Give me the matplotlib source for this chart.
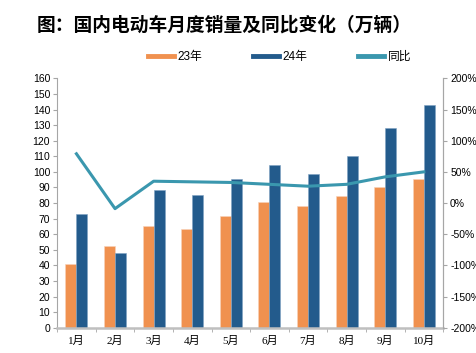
import matplotlib
matplotlib.use("Agg")
import matplotlib.pyplot as plt
import numpy as np
from matplotlib.lines import Line2D

plt.rcParams['font.family'] = ['Liberation Sans', 'Noto Sans CJK SC', 'DejaVu Sans']
plt.rcParams['axes.unicode_minus'] = True

months = ["1月", "2月", "3月", "4月", "5月", "6月", "7月", "8月", "9月", "10月"]
sales_23 = [40.7, 52.4, 65.2, 63.3, 71.6, 80.4, 77.9, 84.5, 90.3, 95.4]
sales_24 = [72.7, 47.7, 88.1, 84.9, 95.2, 104.6, 98.8, 109.9, 128.3, 142.8]
yoy = [79, -9, 35, 34, 33, 30, 27, 30, 42, 50]

c23 = '#F0914F'
c24 = '#235B8C'
cline = '#3A97AE'
gray = '#A6A6A6'

fig = plt.figure(figsize=(4.76, 3.53), dpi=100)
ax1 = fig.add_axes([0.120, 0.0717, 0.811, 0.7063])
x = np.arange(len(months))
w = 0.285
ax1.bar(x - w / 2, sales_23, width=w, color=c23, edgecolor='#F7D3BA', linewidth=0.4, zorder=2)
ax1.bar(x + w / 2, sales_24, width=w, color=c24, edgecolor='#7FA2C2', linewidth=0.4, zorder=2)
ax1.set_xlim(-0.5, len(months) - 0.5)
ax1.set_ylim(0, 160)
ax1.set_yticks(range(0, 161, 10))
ax1.tick_params(axis='y', labelsize=7.5, length=3, color=gray, pad=2)
ax1.set_xticks(x)
ax1.set_xticklabels(months, family=['Liberation Serif', 'Noto Sans CJK SC'], fontsize=8)
ax1.tick_params(axis='x', length=0, pad=6)
ax1.set_xticks(np.arange(-0.5, len(months), 1), minor=True)
ax1.tick_params(axis='x', which='minor', length=3, color=gray, direction='out')
ax1.spines['top'].set_visible(False)
ax1.spines['left'].set_color(gray)
ax1.spines['right'].set_color(gray)
ax1.spines['bottom'].set_color('#BFBFBF')
ax1.spines['bottom'].set_linewidth(1.8)

ax2 = ax1.twinx()
ax2.plot(x, yoy, color=cline, linewidth=2.2, zorder=3)
ax2.set_ylim(-200, 200)
ax2.set_yticks(range(-200, 201, 50))
ax2.set_yticklabels([f"{v}%" for v in range(-200, 201, 50)])
ax2.tick_params(axis='y', labelsize=7.5, length=3, color=gray, pad=2)
ax2.spines['top'].set_visible(False)
ax2.spines['right'].set_color(gray)
ax2.spines['left'].set_visible(False)
ax2.spines['bottom'].set_visible(False)

fig.text(0.078, 0.929, "图：国内电动车月度销量及同比变化（万辆）", fontsize=13.5,
         fontweight='bold', family=['Noto Sans CJK SC'], va='center', ha='left')

handles = [Line2D([0], [0], color=c23, lw=3.5),
           Line2D([0], [0], color=c24, lw=3.5),
           Line2D([0], [0], color=cline, lw=3.5)]
fig.legend(handles, ["23年", "24年", "同比"], loc='center', ncol=3,
           bbox_to_anchor=(0.588, 0.838), frameon=False, fontsize=8.5,
           handlelength=2.2, columnspacing=4.3, handletextpad=0.3)

fig.savefig("out.png", dpi=100)
